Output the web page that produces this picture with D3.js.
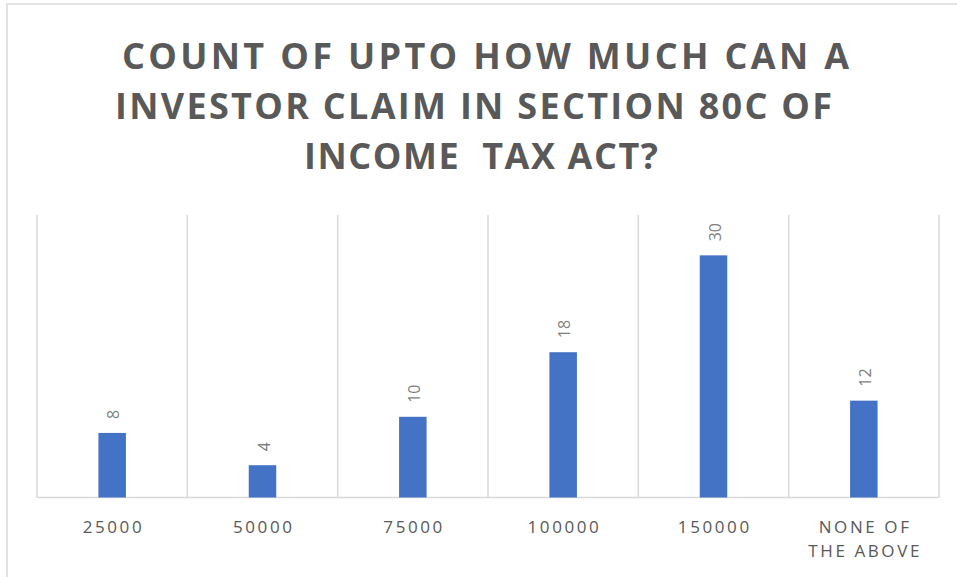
<!DOCTYPE html>
<html>
<head>
<meta charset="utf-8">
<script src="https://cdn.jsdelivr.net/npm/d3@7"></script>
<style>
  body { margin:0; background:#fff; }
  svg { display:block; font-family:"Open Sans", "DejaVu Sans", sans-serif; }
</style>
</head>
<body>
<svg id="chart" width="957" height="577"></svg>
<script>
// ---- data ----
var categories = ["25000","50000","75000","100000","150000","NONE OF THE ABOVE"];
var counts     = [8, 4, 10, 18, 30, 12];
var titleLines = ["COUNT OF UPTO HOW MUCH CAN A", "INVESTOR CLAIM IN SECTION 80C OF", "INCOME  TAX ACT?"];
var Y_MAX = 35;

// ---- layout ----
var PLOT_LEFT=37, PLOT_RIGHT=939, PLOT_TOP=215, PLOT_BOTTOM=497.5;
var COLOR_BAR="#4472C4", COLOR_GRID="#d9d9d9", COLOR_TEXT="#595959";

var svg = d3.select("#chart");

// chart frame (only left and top edges are inside the picture)
svg.append("rect")
  .attr("x",7).attr("y",4)
  .attr("width",1000).attr("height",700)
  .style("fill","none").style("stroke",COLOR_GRID).style("stroke-width",1.5);

// title
var titleWidths = [727, 717, 354];
var titleX = [485.5, 473.5, 481];
svg.append("g").attr("id","title")
  .selectAll("text")
  .data(titleLines)
  .enter().append("text")
    .attr("x",function(d,i){return titleX[i];})
    .attr("y",function(d,i){return 69+i*50;})
    .attr("text-anchor","middle")
    .attr("textLength",function(d,i){return titleWidths[i];})
    .attr("lengthAdjust","spacing")
    .style("font-size","36px")
    .style("font-weight","bold")
    .style("fill",COLOR_TEXT)
    .style("white-space","pre")
    .text(function(d){return d;});

var x = d3.scaleBand().domain(categories).range([PLOT_LEFT,PLOT_RIGHT]).paddingInner(0).paddingOuter(0);
var y = d3.scaleLinear().domain([0,Y_MAX]).range([PLOT_BOTTOM,PLOT_TOP]);

// vertical gridlines at category boundaries
var bounds = categories.map(function(c){return x(c);}).concat([PLOT_RIGHT]);
svg.append("g").attr("id","grid")
  .selectAll("line")
  .data(bounds)
  .enter().append("line")
    .attr("x1",function(d){return d;}).attr("x2",function(d){return d;})
    .attr("y1",PLOT_TOP).attr("y2",PLOT_BOTTOM)
    .style("stroke",COLOR_GRID).style("stroke-width",1.5);

// x axis line
svg.append("line")
  .attr("x1",PLOT_LEFT).attr("x2",PLOT_RIGHT)
  .attr("y1",PLOT_BOTTOM).attr("y2",PLOT_BOTTOM)
  .style("stroke",COLOR_GRID).style("stroke-width",1.5);

// bars
var BAR_W = 27.5;
var gBars = svg.append("g").attr("id","bars");
gBars.selectAll("rect")
  .data(counts)
  .enter().append("rect")
    .attr("x",function(d,i){return x(categories[i])+x.bandwidth()/2-BAR_W/2;})
    .attr("y",function(d){return y(d);})
    .attr("width",BAR_W)
    .attr("height",function(d){return y(0)-y(d);})
    .style("fill",COLOR_BAR);

// value labels, rotated
gBars.selectAll("text")
  .data(counts)
  .enter().append("text")
    .attr("transform",function(d,i){
      var cx = x(categories[i])+x.bandwidth()/2+1.5;
      return "translate("+cx+","+(y(d)-14)+") rotate(-90)";
    })
    .attr("dy","0.35em")
    .attr("text-anchor","start")
    .style("font-size","16px")
    .style("fill","#7f7f7f")
    .text(function(d){return d;});

// category labels (wrapped at spaces for the long one)
var gCats = svg.append("g").attr("id","categories");
categories.forEach(function(c){
  var lines = c.length>10 ? ["NONE OF","THE ABOVE"] : [c];
  var t = gCats.append("text")
    .attr("x",x(c)+x.bandwidth()/2)
    .attr("y",533)
    .attr("text-anchor","middle")
    .style("font-size","17px")
    .style("letter-spacing","2.6px")
    .style("fill",COLOR_TEXT);
  lines.forEach(function(l,j){
    t.append("tspan").attr("x",x(c)+x.bandwidth()/2+1.3).attr("dy",j==0?0:24).text(l);
  });
});
</script>
</body>
</html>
